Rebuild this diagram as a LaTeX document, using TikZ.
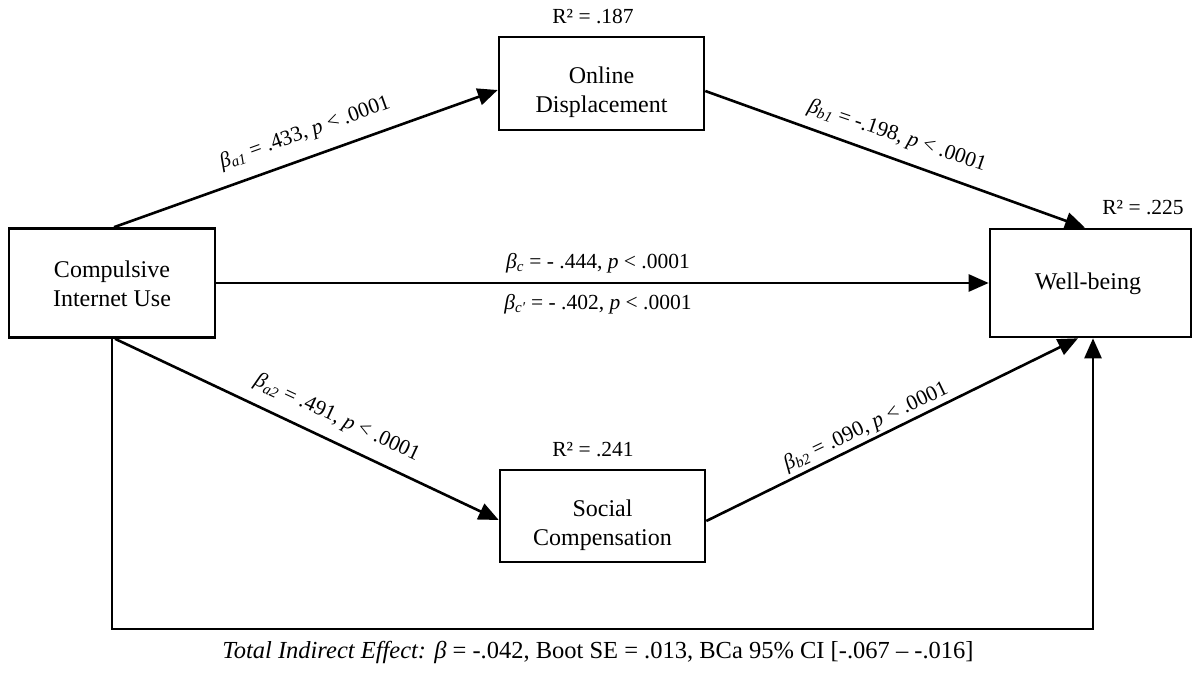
\documentclass[tikz,border=0pt]{standalone}
\usepackage{fontspec}
\setmainfont{Liberation Serif}
\usetikzlibrary{arrows.meta,calc}
\tikzset{
  box/.style={draw=black, line width=2.6pt, inner sep=0pt},
  boxtext/.style={align=center, inner sep=0pt, font=\fontsize{24}{29.5}\selectfont},
  conn/.style={line width=2.6pt, -{Triangle[length=20pt,width=17pt]}},
  lbl/.style={font=\fontsize{21.5}{25}\selectfont, inner sep=0pt},
  rsq/.style={font=\fontsize{21.5}{25}\selectfont, inner sep=0pt},
  captxt/.style={font=\fontsize{24.5}{28}\selectfont, inner sep=0pt}
}
\newcommand{\bb}[1]{\textit{β}\textsubscript{\textit{#1}}}
\begin{document}
\begin{tikzpicture}[x=1pt,y=-1pt]
\useasboundingbox (0,0) rectangle (1192,674);
\node[box, minimum width=206pt, minimum height=109pt] (ciu) at (112,283) {};
\node[box, minimum width=201pt, minimum height=108pt] (wb) at (1090.5,283) {};
\node[box, minimum width=205pt, minimum height=93pt] (od) at (601.5,83.5) {};
\node[box, minimum width=205pt, minimum height=92pt] (sc) at (602.5,516) {};
\node[boxtext] (ciut) at (112,284) {Compulsive\\Internet Use};
\node[boxtext] (wbt) at (1088,284) {Well-being};
\node[boxtext] (odt) at (601.5,92) {Online\\Displacement};
\node[boxtext] (sct) at (602.5,525) {Social\\Compensation};
\node[rsq] (r1) at (593,17) {R² = .187};
\node[rsq] (r2) at (593,450) {R² = .241};
\node[rsq] (r3) at (1143,208) {R² = .225};
\coordinate (loopL) at (112,629);
% connectors
\draw[conn] ([xshift=2pt]ciu.north) -- ([yshift=-6.5pt]od.west);
\draw[conn] ([yshift=-7.5pt]od.east) -- ([xshift=-5.5pt]wb.north);
\draw[conn] (ciu.east) -- (wb.west);
\draw[conn] ([xshift=3pt]ciu.south) -- ([yshift=-4pt]sc.west);
\draw[conn] ([yshift=-5pt]sc.east) -- ([xshift=-12.5pt]wb.south);
\draw[conn] (ciu.south) -- (loopL) -| ([xshift=2.5pt]wb.south);
% labels
\node[lbl, rotate=19.7] (la1) at (305,133) {\bb{a1} = .433, \textit{p} < .0001};
\node[lbl, rotate=-18.7] (lb1) at (897,136) {\bb{b1} = -.198, \textit{p} < .0001};
\node[lbl, rotate=-25] (la2) at (337,418) {\bb{a2} = .491, \textit{p} < .0001};
\node[lbl, rotate=25.6] (lb2) at (866,427) {\bb{b2} = .090, \textit{p} < .0001};
\node[lbl] (lc) at (598,263) {\bb{c} = - .444, \textit{p} < .0001};
\node[lbl] (lcp) at (598,304) {\textit{β}\textsubscript{\textit{c′}} = - .402, \textit{p} < .0001};
\node[captxt] (cap) at (598,652) {\textit{Total Indirect Effect:} \textit{β} = -.042, Boot SE = .013, BCa 95\% CI [-.067 – -.016]};
\end{tikzpicture}
\end{document}
